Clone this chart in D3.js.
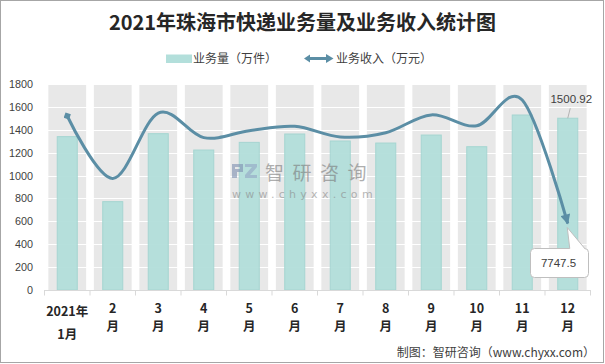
<!DOCTYPE html>
<html><head><meta charset="utf-8">
<script src="https://cdn.jsdelivr.net/npm/d3@7"></script>
<style>body{margin:0;background:#fff}svg{display:block}</style>
</head><body>
<svg id="c" width="605" height="364"></svg>
<script>
// ---- data ----
const months = [["2021年","1月"],["2","月"],["3","月"],["4","月"],["5","月"],["6","月"],["7","月"],["8","月"],["9","月"],["10","月"],["11","月"],["12","月"]];
const volume = [1340, 772, 1366, 1223, 1290, 1363, 1302, 1284, 1354, 1252, 1529, 1500.92];   // 业务量（万件）
const revenue = [20270, 13000, 20610, 17750, 18560, 19070, 17830, 18330, 20400, 19130, 22130, 7747.5]; // 业务收入（万元）
const yTicks = [0, 200, 400, 600, 800, 1000, 1200, 1400, 1600, 1800];
const title = "2021年珠海市快递业务量及业务收入统计图";
const legendNames = ["业务量（万件）", "业务收入（万元）"];
const source = "制图：智研咨询（www.chyxx.com）";

const svg = d3.select("#c");
const FONT = "'Noto Sans CJK SC','Noto Sans',sans-serif";
const barFill = "#b3dfdb", barStroke = "#a2d5d0", lineCol = "#5b8ea5";

const L = 44.5, R = 590.5, T = 84, B = 290;
const idx = d3.range(months.length);
const xCat = d3.scaleBand().domain(idx).range([L, R]);
const xBg = d3.scaleBand().domain(idx).range([L, R]).paddingInner(0.17).paddingOuter(0.085);
const xBar = d3.scaleBand().domain(idx).range([L, R]).paddingInner(0.56).paddingOuter(0.28);
const y = d3.scaleLinear().domain([0, 1800]).range([B, T]);
const y2 = d3.scaleLinear().domain([0, 24000]).range([B, T]);
const xc = i => xCat(i) + xCat.bandwidth() / 2;

// border
svg.append("rect").attr("x", 0.5).attr("y", 0.5).attr("width", 603).attr("height", 362)
  .attr("fill", "#fff").attr("stroke", "#a6a6a6");

// title
svg.append("text").attr("x", 302.5).attr("y", 30).attr("text-anchor", "middle")
  .attr("font-family", "'Noto Sans CJK SC',serif").attr("font-weight", "bold")
  .attr("font-size", 20).attr("fill", "#262626").text(title);

// legend
const lg = svg.append("g").attr("font-family", FONT).attr("font-size", 12).attr("fill", "#404040");
lg.append("rect").attr("x", 166).attr("y", 54.5).attr("width", 26).attr("height", 8.5).attr("fill", barFill);
lg.append("text").attr("x", 193).attr("y", 62.5).text(legendNames[0]);
lg.append("line").attr("x1", 309).attr("x2", 328).attr("y1", 58.5).attr("y2", 58.5)
  .attr("stroke", lineCol).attr("stroke-width", 3);
lg.append("path").attr("d", "M304,58.5 L310,54.5 L310,62.5 Z").attr("fill", lineCol);
lg.append("path").attr("d", "M333.5,58.5 L326,54 L326,63 Z").attr("fill", lineCol);
lg.append("text").attr("x", 336).attr("y", 62.5).text(legendNames[1]);

// background columns
svg.append("g").selectAll("rect").data(idx).join("rect")
  .attr("x", i => xBg(i)).attr("width", xBg.bandwidth())
  .attr("y", T).attr("height", B - T).attr("fill", "#e8e8e8");

// gridlines
svg.append("g").selectAll("line").data(yTicks.slice(1)).join("line")
  .attr("x1", L).attr("x2", R).attr("y1", d => Math.round(y(d)) + 0.5).attr("y2", d => Math.round(y(d)) + 0.5)
  .attr("stroke", "#fff").attr("stroke-width", 1.2);

// bars
svg.append("g").selectAll("rect").data(volume).join("rect")
  .attr("x", (d, i) => xBar(i)).attr("width", xBar.bandwidth())
  .attr("y", d => y(d)).attr("height", d => B - y(d))
  .attr("fill", barFill).attr("stroke", barStroke).attr("stroke-width", 1).attr("opacity", 0.95);

// watermark (over the bars, semi transparent)
const wm = svg.append("g").attr("opacity", 0.6);
wm.append("path").attr("d", "M232,164 h11 v8 h-6 v6 h-5 Z M235,167 h5 v2 h-5 Z").attr("fill", "#7d8fb0").attr("fill-rule", "evenodd");
wm.append("path").attr("d", "M245,164 h12 v3 l-7,8 h7 v3 h-12 v-3 l7,-8 h-7 Z").attr("fill", "#93a6c4");
wm.append("text").attr("x", 265).attr("y", 180).attr("font-family", FONT).attr("font-size", 19)
  .attr("fill", "#7a7a7a").attr("letter-spacing", 8.5).text("智研咨询");
wm.append("text").attr("x", 232).attr("y", 198).attr("font-family", "'DejaVu Sans',sans-serif").attr("font-size", 11)
  .attr("fill", "#8a8a8a").attr("letter-spacing", 4.3).text("www.chyxx.com");

// y axis labels
const ya = svg.append("g").attr("transform", `translate(${L},0)`)
  .call(d3.axisLeft(y).tickValues(yTicks).tickFormat(d3.format("d")).tickSize(0).tickPadding(11.5));
ya.select(".domain").remove();
ya.selectAll("text").attr("font-family", "'Liberation Sans',Arial,sans-serif").attr("font-size", 10.8).attr("fill", "#404040");

// x axis line and ticks
svg.append("line").attr("x1", L).attr("x2", R).attr("y1", B + 0.5).attr("y2", B + 0.5).attr("stroke", "#d9d9d9");
svg.append("g").selectAll("line").data(idx.concat([months.length])).join("line")
  .attr("x1", i => i < months.length ? xCat(i) : R).attr("x2", i => i < months.length ? xCat(i) : R)
  .attr("y1", B).attr("y2", B + 5.5).attr("stroke", "#d9d9d9");

// x labels
const xl = svg.append("g").attr("font-family", FONT).attr("font-size", 12.5).attr("font-weight", "bold")
  .attr("fill", "#262626").attr("text-anchor", "middle");
months.forEach((m, i) => {
  const t = xl.append("text").attr("x", xc(i));
  const y0 = i === 0 ? 316 : 312.5;
  const dy = i === 0 ? 22.5 : 18.5;
  m.forEach((s, k) => t.append("tspan").attr("x", xc(i)).attr("y", y0 + k * dy).text(s));
});

// line with markers
const defs = svg.append("defs");
defs.append("marker").attr("id", "arrEnd").attr("markerUnits", "userSpaceOnUse")
  .attr("viewBox", "0 0 10 10").attr("refX", 9).attr("refY", 5)
  .attr("markerWidth", 11).attr("markerHeight", 10).attr("orient", "auto")
  .append("path").attr("d", "M0,0 L10,5 L0,10 Z").attr("fill", lineCol);
defs.append("marker").attr("id", "arrStart").attr("markerUnits", "userSpaceOnUse")
  .attr("viewBox", "0 0 10 10").attr("refX", 5).attr("refY", 5)
  .attr("markerWidth", 8).attr("markerHeight", 8).attr("orient", "auto")
  .append("path").attr("d", "M0,5 L5,0 L10,5 L5,10 Z").attr("fill", lineCol);

const line = d3.line().x((d, i) => xc(i)).y(d => y2(d)).curve(d3.curveCatmullRom.alpha(0));
svg.append("path").datum(revenue).attr("d", line).attr("fill", "none")
  .attr("stroke", lineCol).attr("stroke-width", 3).attr("stroke-linejoin", "round")
  .attr("marker-start", "url(#arrStart)").attr("marker-end", "url(#arrEnd)");

// callout for last revenue value
const last = revenue.length - 1;
const px = xc(last), py = y2(revenue[last]);
const bx0 = 530.5, bx1 = 588.5, by0 = 248.5, by1 = 277.5, r = 4;
svg.append("path")
  .attr("d", `M${bx0 + r},${by0} L${px + 2},${by0} L${px - 0.5},${py + 4} L${px + 17},${by0} L${bx1 - r},${by0}
    Q${bx1},${by0} ${bx1},${by0 + r} L${bx1},${by1 - r} Q${bx1},${by1} ${bx1 - r},${by1}
    L${bx0 + r},${by1} Q${bx0},${by1} ${bx0},${by1 - r} L${bx0},${by0 + r} Q${bx0},${by0} ${bx0 + r},${by0} Z`)
  .attr("fill", "#fff").attr("stroke", "#bfbfbf").attr("stroke-width", 1);
svg.append("text").attr("x", 558.5).attr("y", 267).attr("text-anchor", "middle")
  .attr("font-family", "'Liberation Sans',Arial,sans-serif").attr("font-size", 11.5).attr("fill", "#404040")
  .text(String(revenue[last]));

// label for last volume value
const vx = xc(last), vy = y(volume[last]);
svg.append("line").attr("x1", vx).attr("y1", vy).attr("x2", vx + 2.5).attr("y2", vy - 10)
  .attr("stroke", "#a6a6a6").attr("stroke-width", 0.8);
svg.append("text").attr("x", vx + 3.5).attr("y", vy - 15).attr("text-anchor", "middle")
  .attr("font-family", "'Liberation Sans',Arial,sans-serif").attr("font-size", 11.5).attr("fill", "#404040")
  .text(volume[last].toFixed(2));

// source
svg.append("text").attr("x", 595).attr("y", 357).attr("text-anchor", "end")
  .attr("font-family", FONT).attr("font-size", 12).attr("fill", "#404040").text(source);
</script>
</body></html>
